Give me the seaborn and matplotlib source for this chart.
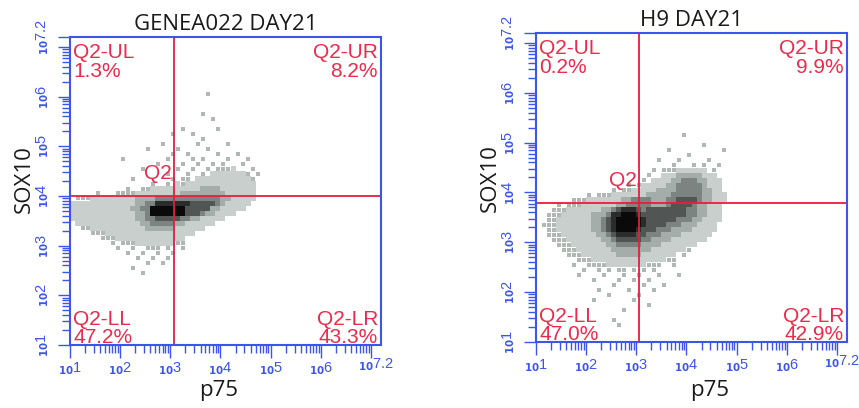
import numpy as np
import seaborn as sns
import matplotlib.pyplot as plt
from matplotlib.colors import ListedColormap

# density: rows are (y bottom in decades, [(col_from, col_to, level)])
# columns: x = 1.0 + 0.1*col decades, levels 1 (sparse dots) .. 7 (black)
LEFT_ROWS = [
  (6.0, [(27, 27, 1)]),
  (5.6, [(26, 26, 1)]),
  (5.5, [(28, 28, 1)]),
  (5.3, [(22, 22, 1), (29, 29, 1)]),
  (5.2, [(20, 20, 1), (24, 24, 1)]),
  (5.1, [(26, 26, 1)]),
  (5.0, [(18, 18, 1), (25, 25, 1), (31, 31, 1)]),
  (4.9, [(15, 15, 1), (21, 21, 1), (27, 27, 1)]),
  (4.8, [(20, 20, 1), (23, 23, 1), (29, 29, 1), (33, 33, 1)]),
  (4.7, [(10, 10, 1), (19, 19, 1), (24, 24, 1), (26, 26, 1), (31, 31, 1), (35, 35, 1)]),
  (4.6, [(17, 17, 1), (22, 22, 1), (25, 25, 1), (28, 28, 1), (30, 30, 1), (34, 34, 1)]),
  (4.5, [(14, 14, 1), (21, 21, 1), (24, 24, 1), (27, 27, 1), (29, 31, 1), (32, 32, 2), (36, 36, 1)]),
  (4.4, [(19, 19, 1), (23, 23, 1), (26, 26, 1), (28, 34, 2), (35, 35, 1), (37, 37, 1)]),
  (4.3, [(12, 12, 1), (20, 20, 1), (22, 23, 1), (25, 35, 2), (36, 36, 1)]),
  (4.2, [(16, 16, 1), (19, 19, 1), (21, 36, 2), (22, 22, 1)]),
  (4.1, [(11, 11, 1), (14, 15, 1), (16, 36, 2), (26, 29, 3)]),
  (4.0, [(5, 5, 1), (9, 12, 1), (13, 36, 2), (22, 30, 3)]),
  (3.9, [(1, 3, 1), (4, 36, 2), (13, 31, 3), (17, 29, 4)]),
  (3.8, [(0, 35, 2), (13, 30, 3), (15, 29, 4), (24, 28, 5), (17, 23, 6)]),
  (3.7, [(0, 34, 2), (12, 29, 3), (14, 27, 4), (23, 27, 5), (16, 22, 7)]),
  (3.6, [(0, 32, 2), (13, 28, 3), (15, 26, 4), (23, 25, 5), (16, 22, 7)]),
  (3.5, [(0, 30, 2), (13, 25, 3), (15, 23, 4), (17, 21, 5)]),
  (3.4, [(1, 28, 2), (14, 22, 3), (16, 20, 4)]),
  (3.3, [(2, 3, 1), (4, 26, 2), (15, 20, 3)]),
  (3.2, [(4, 6, 1), (7, 24, 2)]),
  (3.1, [(6, 8, 1), (9, 22, 2)]),
  (3.0, [(8, 8, 1), (10, 12, 1), (13, 20, 2), (21, 22, 1)]),
  (2.9, [(9, 9, 1), (12, 12, 1), (15, 17, 1), (19, 19, 1), (22, 22, 1)]),
  (2.8, [(11, 11, 1), (14, 14, 1), (17, 17, 1), (20, 20, 1)]),
  (2.7, [(13, 13, 1), (16, 16, 1), (19, 19, 1)]),
  (2.6, [(15, 15, 1), (18, 18, 1)]),
  (2.5, [(12, 12, 1)]),
  (2.4, [(14, 14, 1)]),
]

RIGHT_ROWS = [
  (5.1, [(29, 29, 1)]),
  (4.9, [(33, 33, 1)]),
  (4.8, [(26, 26, 1), (37, 37, 1)]),
  (4.7, [(30, 30, 1)]),
  (4.6, [(24, 24, 1), (28, 28, 1), (34, 34, 1)]),
  (4.5, [(27, 27, 1), (31, 31, 1), (33, 33, 1), (36, 36, 1)]),
  (4.4, [(23, 23, 1), (25, 27, 1), (28, 33, 2), (35, 35, 1)]),
  (4.3, [(22, 22, 1), (25, 35, 2), (28, 32, 3)]),
  (4.2, [(21, 21, 1), (23, 36, 2), (27, 33, 3), (29, 31, 4)]),
  (4.1, [(18, 18, 1), (20, 20, 1), (21, 36, 2), (26, 33, 3), (28, 32, 4)]),
  (4.0, [(15, 15, 1), (17, 18, 1), (19, 36, 2), (24, 34, 3), (28, 32, 4)]),
  (3.9, [(10, 10, 1), (12, 14, 1), (15, 37, 2), (22, 34, 3), (27, 32, 4)]),
  (3.8, [(7, 7, 1), (8, 9, 1), (10, 37, 2), (17, 34, 3), (19, 22, 4), (26, 32, 4), (28, 31, 5)]),
  (3.7, [(4, 4, 1), (6, 8, 1), (9, 36, 2), (16, 33, 3), (18, 22, 4), (26, 31, 4), (27, 30, 5)]),
  (3.6, [(3, 5, 1), (6, 36, 2), (13, 33, 3), (15, 31, 4), (16, 20, 5), (22, 29, 5), (17, 19, 6)]),
  (3.5, [(2, 4, 1), (5, 36, 2), (11, 33, 3), (14, 31, 4), (15, 29, 5), (15, 20, 6), (17, 19, 7)]),
  (3.4, [(2, 3, 1), (4, 36, 2), (11, 32, 3), (13, 30, 4), (14, 27, 5), (15, 21, 6), (16, 20, 7)]),
  (3.3, [(1, 3, 1), (4, 35, 2), (11, 31, 3), (13, 28, 4), (14, 25, 5), (15, 21, 6), (16, 20, 7)]),
  (3.2, [(2, 3, 1), (4, 35, 2), (11, 30, 3), (13, 26, 4), (14, 23, 5), (15, 20, 6), (16, 19, 7)]),
  (3.1, [(2, 4, 1), (5, 34, 2), (12, 28, 3), (14, 24, 4), (15, 21, 5), (16, 19, 6)]),
  (3.0, [(3, 5, 1), (6, 33, 2), (13, 26, 3), (15, 22, 4), (16, 20, 5)]),
  (2.9, [(4, 6, 1), (7, 31, 2), (14, 24, 3), (16, 20, 4)]),
  (2.8, [(5, 7, 1), (8, 29, 2), (15, 22, 3), (30, 30, 1)]),
  (2.7, [(6, 8, 1), (9, 27, 2), (16, 20, 3), (29, 29, 1)]),
  (2.6, [(8, 10, 1), (11, 25, 2), (26, 27, 1)]),
  (2.5, [(7, 7, 1), (10, 24, 1), (14, 21, 2), (27, 27, 1)]),
  (2.4, [(9, 9, 1), (12, 12, 1), (14, 14, 1), (16, 17, 1), (19, 19, 1), (21, 21, 1), (23, 23, 1)]),
  (2.3, [(8, 8, 1), (13, 13, 1), (17, 17, 1), (20, 20, 1), (24, 24, 1), (28, 28, 1)]),
  (2.2, [(11, 11, 1), (16, 16, 1), (19, 19, 1), (22, 22, 1)]),
  (2.1, [(15, 15, 1), (21, 21, 1), (25, 25, 1)]),
  (2.0, [(12, 12, 1), (18, 18, 1), (23, 23, 1)]),
  (1.9, [(14, 14, 1), (20, 20, 1)]),
  (1.8, [(11, 11, 1), (19, 19, 1)]),
  (1.7, [(22, 22, 1)]),
  (1.6, [(17, 17, 1)]),
  (1.4, [(15, 15, 1)]),
  (1.3, [(16, 16, 1)]),
]

titles = ['GENEA022 DAY21', 'H9 DAY21']
gates = [(3.07, 4.0), (3.05, 3.79)]  # (p75, SOX10) in decades
quad_names = ['Q2-UL', 'Q2-UR', 'Q2-LL', 'Q2-LR']
quad_pcts = [['1.3%', '8.2%', '47.2%', '43.3%'],
             ['0.2%', '9.9%', '47.0%', '42.9%']]
x_decades = [1, 2, 3, 4, 5, 6, 7]
x_labels = ['1', '2', '3', '4', '5', '6', '']
y_decades = [1, 2, 3, 4, 5, 6, 7, 7.2]
y_labels = ['1', '2', '3', '4', '5', '6', '', '7.2']

BLUE = '#3d55ea'
RED = '#ec2a4a'
LINE_RED = '#e61e3c'
levels_cmap = ListedColormap(['#c8cfcc', '#a5adaa', '#7c8380', '#515654', '#2a2d2c', '#0a0a0a'])

sns.set_style('white')
plt.rcParams['font.family'] = ['Liberation Sans', 'DejaVu Sans']
plt.rcParams['mathtext.default'] = 'regular'


def cells(rows):
  xs, ys, ws = [], [], []
  for y0, segs in rows:
    lv = {}
    for c0, c1, level in segs:
      for c in range(c0, c1 + 1):
        lv[c] = level
    for c, level in lv.items():
      xs.append(1.0 + 0.1 * c + 0.05)
      ys.append(y0 + 0.05)
      ws.append(level)
  return np.array(xs), np.array(ys), np.array(ws)


def lab(s):
  return r'$_{\mathbf{10}}$' + s if s else ''


fig = plt.figure(figsize=(8.59, 4.08), dpi=100)
W, H = 859, 408
boxes = [(70, 37, 311, 308), (536, 33, 311, 309)]
xlab_x = [219, 710]
ylab_pos = [(24, 179), (490, 178)]
edges_x = np.round(np.arange(1.0, 5.01, 0.1), 2)
edges_y = np.round(np.arange(1.0, 6.31, 0.1), 2)

for i, rows in enumerate([LEFT_ROWS, RIGHT_ROWS]):
  left, top, w, h = boxes[i]
  ax = fig.add_axes([left / W, 1 - (top + h) / H, w / W, h / H])
  xs, ys, ws = cells(rows)
  dense = ws >= 2
  sns.histplot(x=xs[dense], y=ys[dense], weights=ws[dense], bins=[edges_x, edges_y],
               cmap=levels_cmap, vmin=1.5, vmax=7.5, ax=ax)
  # sparse events as single dots
  sns.scatterplot(x=xs[~dense], y=ys[~dense], s=5, marker='s', color='#b0b8b4',
                  linewidth=0, ax=ax)
  ax.set_xlim(1, 7.2)
  ax.set_ylim(1, 7.2)
  ax.set_xlabel('')
  ax.set_ylabel('')

  minors = [n + np.log10(k) for n in range(1, 7) for k in range(2, 10)]
  ax.set_xticks(x_decades, [lab(s) for s in x_labels])
  ax.set_yticks(y_decades, [lab(s) for s in y_labels], rotation=90, va='center')
  ax.set_xticks(minors, minor=True)
  ax.set_yticks(minors, minor=True)
  ax.tick_params(which='both', direction='out', color=BLUE, width=1, labelcolor=BLUE,
                 labelsize=10.5)
  ax.tick_params(which='major', length=9)
  ax.tick_params(which='minor', length=6)
  ax.tick_params(axis='x', which='both', bottom=True, pad=2)
  ax.tick_params(axis='y', which='both', left=True, pad=5)
  # end label of the x axis sits just inside the corner
  ax.annotate(lab('7.2'), (7.1, 0), xycoords=('data', 'axes fraction'),
              xytext=(0, -12), textcoords='offset pixels', ha='center', va='top',
              color=BLUE, fontsize=10.5, annotation_clip=False)
  for sp in ax.spines.values():
    sp.set_color(BLUE)
    sp.set_linewidth(1.5)

  gx, gy = gates[i]
  ax.axvline(gx, color=LINE_RED, lw=1.3)
  ax.axhline(gy, color=LINE_RED, lw=1.3)
  ax.annotate('Q2', (gx, gy), xytext=(-2, 17), textcoords='offset pixels',
              ha='right', va='baseline', color=RED, fontsize=15)

  pcts = quad_pcts[i]
  tk = dict(transform=ax.transAxes, color=RED, fontsize=15, va='baseline')
  ax.text(0.01, 1 - 21 / h, quad_names[0], ha='left', **tk)
  ax.text(0.01, 1 - 40 / h, pcts[0], ha='left', **tk)
  ax.text(0.99, 1 - 21 / h, quad_names[1], ha='right', **tk)
  ax.text(0.99, 1 - 40 / h, pcts[1], ha='right', **tk)
  ax.text(0.01, 20 / h, quad_names[2], ha='left', **tk)
  ax.text(0.01, 2 / h, pcts[2], ha='left', **tk)
  ax.text(0.99, 20 / h, quad_names[3], ha='right', **tk)
  ax.text(0.99, 2 / h, pcts[3], ha='right', **tk)

  ax.text(0.5, 1 + 7 / h, titles[i], transform=ax.transAxes, ha='center', va='baseline',
          fontsize=16, family='Open Sans', color='#1a1a1a')
  fig.text(xlab_x[i] / W, 1 - 396 / H, 'p75', ha='center', va='baseline',
           fontsize=16, family='Open Sans', color='#1a1a1a')
  yx, yy = ylab_pos[i]
  fig.text(yx / W, 1 - yy / H, 'SOX10', ha='center', va='center', rotation=90,
           fontsize=16, family='Open Sans', color='#1a1a1a')

fig.savefig('out.png', dpi=100)
